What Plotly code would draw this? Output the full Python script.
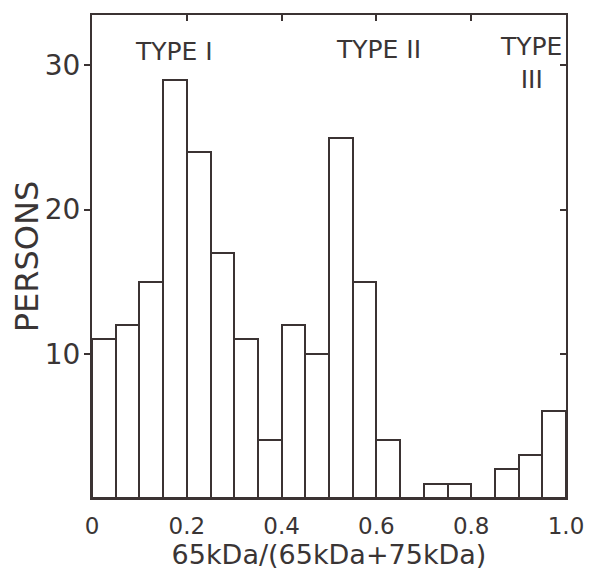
import plotly.graph_objects as go

# Data: histogram bins (left edges, width 0.05) and counts of persons
bin_left = [0.00, 0.05, 0.10, 0.15, 0.20, 0.25, 0.30, 0.35, 0.40, 0.45,
            0.50, 0.55, 0.60, 0.65, 0.70, 0.75, 0.80, 0.85, 0.90, 0.95]
bin_width = 0.05
persons = [11, 12, 15, 29, 24, 17, 11, 4, 12, 10,
           25, 15, 4, 0, 1, 1, 0, 2, 3, 6]

x_tickvals = [0, 0.2, 0.4, 0.6, 0.8, 1.0]
x_ticktext = ["0", "0.2", "0.4", "0.6", "0.8", "1.0"]
y_tickvals = [10, 20, 30]

type_labels = ["TYPE I", "TYPE II", "TYPE<br>III"]
type_x = [0.173, 0.605, 0.927]
type_y = [31.0, 31.1, 30.2]

LINE = "#3b3333"
TEXT = "#3a3535"
FONT = "DejaVu Sans"

centers = [b + bin_width / 2 for b in bin_left]

fig = go.Figure()
fig.add_trace(go.Bar(
    x=centers, y=persons, width=bin_width,
    marker=dict(color="white", line=dict(color=LINE, width=2)),
    showlegend=False, hoverinfo="skip",
))
# dummy trace to register the secondary (top/right) tick axes
fig.add_trace(go.Scatter(x=[None], y=[None], xaxis="x2", yaxis="y2",
                         mode="markers", showlegend=False, hoverinfo="skip"))

for t, xx, yy in zip(type_labels, type_x, type_y):
    fig.add_annotation(x=xx, y=yy, text=t, showarrow=False,
                       font=dict(family=FONT, size=25, color=TEXT),
                       xanchor="center", yanchor="middle", align="center")

# the page body adds an 8px margin, so the figure is sized to fit the window
fig.update_layout(
    width=579, height=568,
    margin=dict(l=84, r=21, t=7, b=78),
    paper_bgcolor="white", plot_bgcolor="white",
    bargap=0,
    xaxis=dict(range=[0, 1], tickvals=x_tickvals, ticktext=x_ticktext,
               ticks="", showgrid=False, zeroline=False, automargin=False,
               showline=True, linecolor=LINE, linewidth=2, mirror=True,
               tickfont=dict(family=FONT, size=23, color=TEXT),
               ticklabelstandoff=6, ticklabeloverflow="allow",
               title=dict(text="65kDa/(65kDa+75kDa)", standoff=6,
                          font=dict(family=FONT, size=27, color=TEXT))),
    yaxis=dict(range=[0, 33.5], tickvals=y_tickvals, automargin=False,
               ticks="outside", ticklen=6, tickwidth=2, tickcolor=LINE,
               showgrid=False, zeroline=False,
               showline=True, linecolor=LINE, linewidth=2, mirror=True,
               tickfont=dict(family=FONT, size=28, color=TEXT),
               ticklabelstandoff=-2,
               title=dict(text="PERSONS", standoff=14,
                          font=dict(family=FONT, size=32, color=TEXT))),
    xaxis2=dict(overlaying="x", side="top", anchor="y", range=[0, 1],
                tickvals=[0.2, 0.4, 0.6, 0.8], ticks="inside", ticklen=6,
                tickwidth=2, tickcolor=LINE, showticklabels=False,
                automargin=False,
                showgrid=False, zeroline=False, showline=False),
    yaxis2=dict(overlaying="y", side="right", anchor="x", range=[0, 33.5],
                tickvals=y_tickvals, ticks="inside", ticklen=6,
                tickwidth=2, tickcolor=LINE, showticklabels=False,
                automargin=False,
                showgrid=False, zeroline=False, showline=False),
)

fig.write_html("out.html")
